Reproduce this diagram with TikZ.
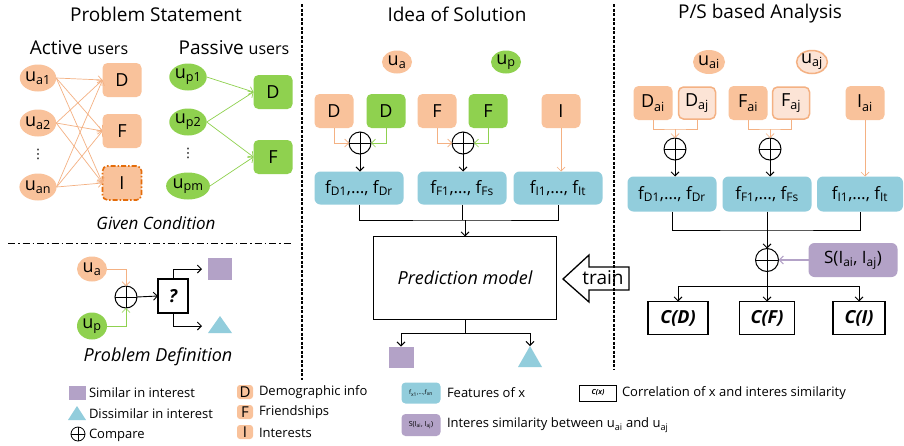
\documentclass[tikz,border=0pt]{standalone}
\usepackage{fontspec}
\setmainfont{Open Sans}
\newfontfamily\dejavu{DejaVu Sans}
\usetikzlibrary{arrows.meta,shapes.geometric,calc}
\definecolor{orfill}{HTML}{F9C29B}
\definecolor{orline}{HTML}{F4B183}
\definecolor{ordark}{HTML}{E46C0A}
\definecolor{orlight}{HTML}{FCE4D6}
\definecolor{grfill}{HTML}{8FD14F}
\definecolor{blfill}{HTML}{92CDDC}
\definecolor{pufill}{HTML}{B3A2C7}
\newcommand\fsz[1]{\fontsize{#1}{#1}\selectfont}
\begin{document}
\begin{tikzpicture}[x=1pt,y=-1pt,
 every node/.style={inner sep=0pt, outer sep=0pt},
 tip/.style={-{Straight Barb[length=4pt,width=8pt]}},
 blk/.style={tip, line width=0.9pt},
 oarr/.style={tip, draw=orline, line width=0.7pt},
 garr/.style={tip, draw=grfill, line width=0.7pt},
 title/.style={font=\fsz{19}},
 uo/.style={ellipse, fill=orfill, minimum width=32pt, minimum height=27pt, font=\fsz{18}},
 ug/.style={uo, fill=grfill},
 ob/.style={rectangle, rounded corners=5pt, fill=orfill, minimum width=39pt, minimum height=34pt, font=\fsz{18}},
 gb/.style={ob, fill=grfill},
 lb/.style={ob, fill=orlight, draw=orline, line width=1.5pt},
 fb/.style={rectangle, rounded corners=6pt, fill=blfill, minimum width=89pt, minimum height=34pt, font=\fsz{17}},
 opl/.style={circle, draw, line width=1pt, minimum size=22pt, path picture={\draw[line width=1pt] (path picture bounding box.north) -- (path picture bounding box.south) (path picture bounding box.west) -- (path picture bounding box.east);}},
 cb/.style={rectangle, draw, line width=1.1pt, minimum height=33pt, font=\fsz{18}\bfseries\itshape},
 lgt/.style={anchor=west, font=\fsz{13}},
 vdt/.style={font=\fsz{13}\dejavu},
 divider/.style={line width=1.2pt, dash pattern=on 3pt off 1.5pt}
]
\useasboundingbox (0,0) rectangle (904,445);
\fill[white] (0,0) rectangle (904,445);

% ---------------- Left panel ----------------
\node[title] (t1) at (156,14) {Problem Statement};
\node[font=\fsz{19}] (act) at (79,48) {Active {\fsz{16}users}};
\node[font=\fsz{19}] (pas) at (234,48) {Passive {\fsz{16}users}};

\node[uo] (ua1) at (38,78) {u\textsubscript{a1}};
\node[uo] (ua2) at (38,123) {u\textsubscript{a2}};
\node[vdt] (dt1) at (38,154) {⋮};
\node[uo] (uan) at (38,187) {u\textsubscript{an}};
\node[ob] (lD) at (122,80) {D};
\node[ob] (lF) at (122,131) {F};
\node[ob, draw=ordark, line width=1.6pt, dash pattern=on 5pt off 2pt on 1.5pt off 2pt] (lI) at (122,183) {I};
\foreach \s in {ua1,ua2,uan}
  \foreach \t in {lD,lF,lI}
    \draw[oarr] (\s.east) -- (\t.west);

\node[ug] (up1) at (188,77) {u\textsubscript{p1}};
\node[ug] (up2) at (188,122) {u\textsubscript{p2}};
\node[vdt] (dt2) at (188,153) {⋮};
\node[ug] (upm) at (188,186) {u\textsubscript{pm}};
\node[gb] (gD) at (273,92) {D};
\node[gb] (gF) at (273,157) {F};
\draw[garr] (up1.east) -- (gD.west);
\draw[garr] (up2.east) -- (gD.west);
\draw[garr] (up2.east) -- (gF.west);
\draw[garr] (upm.east) -- (gF.west);

\node[font=\fsz{17}\itshape] (gc) at (156,223) {Given Condition};
\draw[line width=1pt, dash pattern=on 7pt off 3pt on 1.5pt off 3pt] (8,243) -- (292,243);

\node[uo, minimum width=30pt, minimum height=25pt] (pua) at (92,269) {u\textsubscript{a}};
\node[ug, minimum width=30pt, minimum height=27pt] (pup) at (92,326) {u\textsubscript{p}};
\node[opl] (pc) at (126,297) {};
\node[draw, line width=1.1pt, minimum width=30pt, minimum height=34pt, font=\fsz{18}\bfseries\itshape] (q) at (173,296) {?};
\node[fill=pufill, minimum width=24pt, minimum height=22pt] (psq) at (220,269) {};
\fill[blfill] (208,333) -- (232,333) -- (220,316) -- cycle;
\coordinate (ptr) at (208,326);
\draw[oarr] (pua.east) -| (pc.north);
\draw[garr] (pup.east) -| (pc.south);
\draw[blk] (pc.east) -- (q.west);
\draw[blk, shorten >=6pt] (q.north) |- (psq.west);
\draw[blk, shorten >=6pt] (q.south) |- (ptr);
\node[font=\fsz{18}\itshape] (pd) at (158,357) {Problem Definition};

% ---------------- Middle panel ----------------
\node[title] (t2) at (457,14) {Idea of Solution};
\node[uo, minimum width=30pt, minimum height=23pt] (mua) at (397,62) {u\textsubscript{a}};
\node[ug, minimum width=30pt, minimum height=23pt] (mup) at (506,62) {u\textsubscript{p}};
\node[ob] (mD1) at (334,111) {D};
\node[gb] (mD2) at (386,111) {D};
\node[ob] (mF1) at (437,111) {F};
\node[gb] (mF2) at (488,111) {F};
\node[ob] (mI) at (561,111) {I};
\node[opl] (mc1) at (360,143) {};
\node[opl] (mc2) at (463,143) {};
\node[fb, minimum height=33pt] (mf1) at (359,188) {f\textsubscript{D1},…, f\textsubscript{Dr}};
\node[fb, minimum height=33pt] (mf2) at (462,188) {f\textsubscript{F1},…, f\textsubscript{Fs}};
\node[fb, minimum height=33pt] (mf3) at (558,188) {f\textsubscript{I1},…, f\textsubscript{It}};
\draw[oarr] (mD1.south) |- (mc1.west);
\draw[garr] (mD2.south) |- (mc1.east);
\draw[oarr] (mF1.south) |- (mc2.west);
\draw[garr] (mF2.south) |- (mc2.east);
\draw[blk] (mc1.south) -- (mc1.south |- mf1.north);
\draw[blk] (mc2.south) -- (mc2.south |- mf2.north);
\draw[oarr] (mI.south) -- (mI.south |- mf3.north);

\node[draw, line width=1.1pt, minimum width=183pt, minimum height=83pt, font=\fsz{18}\itshape] (pm) at (465,278) {Prediction model};
\coordinate (mj) at (465,220);
\draw[line width=0.9pt] (mf1.south) |- (mj) -| (mf3.south);
\draw[line width=0.9pt] (mf2.south) -- (mf2.south |- mj);
\draw[blk] (mj) -- (pm.north);
\node[fill=pufill, minimum width=25pt, minimum height=21pt] (msq) at (401,357) {};
\fill[blfill] (518,367) -- (542,367) -- (530,346) -- cycle;
\coordinate (mtr) at (530,346);
\coordinate (mk) at (465,333);
\draw[line width=0.9pt] (pm.south) -- (mk);
\draw[blk] (mk) -| (msq.north);
\draw[blk] (mk) -| (mtr);

\filldraw[fill=white, line width=1.3pt] (563,279) -- (589,255) -- (589,267) -- (629,267) -- (629,290) -- (589,290) -- (589,302) -- cycle;
\node[font=\fsz{19}] (train) at (603,278) {train};

% ---------------- Right panel ----------------
\node[title] (t3) at (760,14) {P/S based Analysis};
\node[uo, minimum width=32pt, minimum height=24pt] (rua) at (709,62) {u\textsubscript{ai}};
\node[uo, fill=orlight, draw=orline, line width=1.5pt, minimum width=30pt, minimum height=23pt] (ruj) at (812,62) {u\textsubscript{aj}};
\node[ob] (rD1) at (653,103) {D\textsubscript{ai}};
\node[lb, minimum width=37pt, minimum height=32pt] (rD2) at (697,103) {D\textsubscript{aj}};
\node[ob] (rF1) at (748,103) {F\textsubscript{ai}};
\node[lb, minimum width=37pt, minimum height=32pt] (rF2) at (791,103) {F\textsubscript{aj}};
\node[ob] (rI) at (865,103) {I\textsubscript{ai}};
\node[opl] (rc1) at (675,149) {};
\node[opl] (rc2) at (770,149) {};
\coordinate (rj1) at (675,129);
\coordinate (rj2) at (770,129);
\draw[draw=orline, line width=0.9pt] (rD1.south) |- (rj1) -| (rD2.south);
\draw[oarr] (rj1) -- (rc1.north);
\draw[draw=orline, line width=0.9pt] (rF1.south) |- (rj2) -| (rF2.south);
\draw[oarr] (rj2) -- (rc2.north);
\node[fb, minimum height=35pt] (rf1) at (672,194) {f\textsubscript{D1},…, f\textsubscript{Dr}};
\node[fb, minimum height=35pt] (rf2) at (767,194) {f\textsubscript{F1},…, f\textsubscript{Fs}};
\node[fb, minimum height=35pt, minimum width=86pt] (rf3) at (860,194) {f\textsubscript{I1},…, f\textsubscript{It}};
\draw[blk] (rc1.south) -- (rc1.south |- rf1.north);
\draw[blk] (rc2.south) -- (rc2.south |- rf2.north);
\draw[oarr] (rI.south) -- (rI.south |- rf3.north);

\node[opl, minimum size=23pt] (rc3) at (767,260) {};
\coordinate (rj3) at (767,230);
\draw[line width=0.9pt] (rf1.south) |- (rj3) -| (rf3.south);
\draw[line width=0.9pt] (rf2.south) -- (rj3);
\draw[blk] (rj3) -- (rc3.north);
\node[rectangle, rounded corners=6pt, fill=pufill, minimum width=89pt, minimum height=34pt, font=\fsz{17}] (rS) at (853,260) {S(I\textsubscript{ai}, I\textsubscript{aj})};
\draw[tip, draw=pufill, line width=1.2pt] (rS.west) -- (rc3.east);
\node[cb, minimum width=60pt] (cD) at (678,318) {C(D)};
\node[cb, minimum width=55pt] (cF) at (767,318) {C(F)};
\node[cb, minimum width=52pt] (cI) at (859,318) {C(I)};
\coordinate (rk) at (767,286);
\draw[line width=0.9pt] (rc3.south) -- (rk);
\draw[blk] (rk) -| (cD.north);
\draw[blk] (rk) -- (cF.north);
\draw[blk] (rk) -| (cI.north);

% ---------------- Dividers ----------------
\draw[divider] (302,4) -- (302,380);
\draw[divider] (614,4) -- (614,369);

% ---------------- Legend ----------------
\node[fill=pufill, minimum width=17pt, minimum height=14pt] (lgsq) at (77,393) {};
\node[lgt] (lg1) at (89,393) {Similar in interest};
\fill[blfill] (68,420) -- (86,420) -- (77,406) -- cycle;
\node[lgt] (lg2) at (89,414) {Dissimilar in interest};
\node[opl, minimum size=14pt, line width=0.8pt] (lgc) at (78,434) {};
\node[lgt] (lg3) at (89,435) {Compare};

\node[ob, minimum width=16pt, minimum height=14pt, rounded corners=3pt, font=\fsz{15}] (lgD) at (245,392) {D};
\node[lgt] (lg4) at (259,392) {Demographic info};
\node[ob, minimum width=16pt, minimum height=14pt, rounded corners=3pt, font=\fsz{15}] (lgF) at (245,412) {F};
\node[lgt] (lg5) at (259,412) {Friendships};
\node[ob, minimum width=16pt, minimum height=14pt, rounded corners=3pt, font=\fsz{15}] (lgI) at (245,432) {I};
\node[lgt] (lg6) at (259,433) {Interests};

\node[rectangle, rounded corners=4pt, fill=blfill, minimum width=39pt, minimum height=21pt, font=\fsz{6}] (lgf) at (421,393) {f\textsubscript{x1},…,f\textsubscript{xn}};
\node[lgt] (lg7) at (447,393) {Features of x};
\node[rectangle, rounded corners=4pt, fill=pufill, minimum width=39pt, minimum height=22pt, font=\fsz{7}] (lgs) at (421,425) {S(I\textsubscript{ai}, I\textsubscript{aj})};
\node[lgt] (lg8) at (447,425) {Interes similarity between u\textsubscript{ai} and u\textsubscript{aj}};
\node[draw, line width=0.8pt, minimum width=37pt, minimum height=16pt, font=\fsz{7}\bfseries\itshape] (lgcx) at (598,393) {C(x)};
\node[lgt] (lg9) at (622,393) {Correlation of x and interes similarity};
\end{tikzpicture}
\end{document}
